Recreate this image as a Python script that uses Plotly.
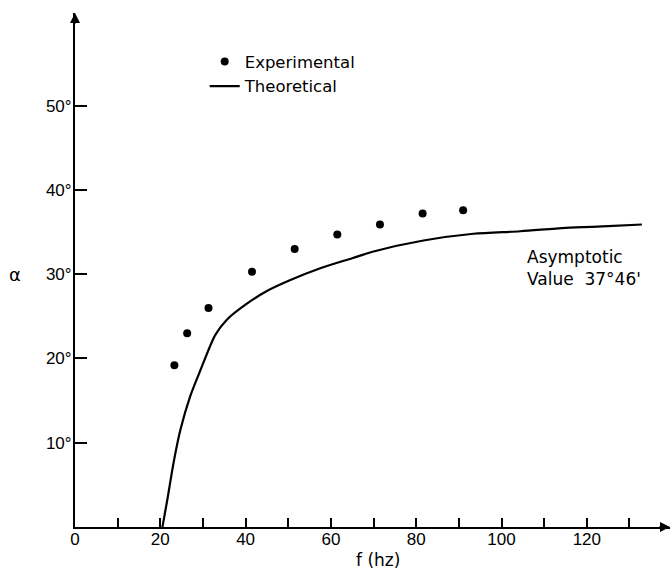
import plotly.graph_objects as go

# Experimental points (frequency in hz, angle alpha in degrees)
exp_f = [23.3, 26.3, 31.3, 41.5, 51.5, 61.5, 71.5, 81.5, 91.0]
exp_alpha = [19.2, 23.0, 26.0, 30.3, 33.0, 34.7, 35.9, 37.2, 37.6]

# Theoretical curve
theo_f = [20.5, 21.7, 23.1, 24.7, 27.0, 29.4, 32.9, 35.6, 40.3, 45.0, 50.5, 57.5,
          65.0, 70.0, 81.7, 93.4, 104.4, 115.0, 125.0, 132.9]
theo_alpha = [0.0, 3.4, 7.6, 11.5, 15.5, 18.6, 22.8, 24.6, 26.5, 28.0, 29.3, 30.7,
              31.9, 32.7, 34.0, 34.8, 35.1, 35.5, 35.7, 35.9]

x_tickvals = list(range(0, 140, 10))
x_ticktext = ["0", "", "20", "", "40", "", "60", "", "80", "", "100", "", "120", ""]
y_tickvals = [10, 20, 30, 40, 50]
y_ticktext = ["10°", "20°", "30°", "40°", "50°"]

FONT = "DejaVu Sans"
TICKFONT = "Liberation Sans"

fig = go.Figure()
fig.add_trace(go.Scatter(
    x=exp_f, y=exp_alpha, mode="markers", name="Experimental",
    marker=dict(color="black", size=8),
))
fig.add_trace(go.Scatter(
    x=theo_f, y=theo_alpha, mode="lines", name="Theoretical",
    line=dict(color="black", width=2.2, shape="spline", smoothing=0.8),
))

fig.update_layout(
    width=671, height=569,
    margin=dict(l=75, r=1, t=13, b=42, autoexpand=False),
    paper_bgcolor="white", plot_bgcolor="white",
    font=dict(family=FONT, color="black", size=16),
    showlegend=True,
    legend=dict(
        x=0.218, y=0.939, xanchor="left", yanchor="top",
        bgcolor="rgba(0,0,0,0)", borderwidth=0,
        font=dict(family=FONT, size=16.5, color="black"),
        itemwidth=30,
    ),
    xaxis=dict(
        range=[0, 139.5], showgrid=False, zeroline=False, automargin=False,
        showline=True, linecolor="black", linewidth=2,
        tickmode="array", tickvals=x_tickvals, ticktext=x_ticktext,
        ticks="inside", ticklen=9, tickwidth=1.5, tickcolor="black",
        ticklabelstandoff=-4,
        tickfont=dict(family=TICKFONT, size=17, color="black"),
    ),
    yaxis=dict(
        range=[0, 61], showgrid=False, zeroline=False, automargin=False,
        showline=True, linecolor="black", linewidth=2,
        tickmode="array", tickvals=y_tickvals, ticktext=y_ticktext,
        ticks="inside", ticklen=12, tickwidth=1.5, tickcolor="black",
        ticklabelstandoff=-2,
        tickfont=dict(family=TICKFONT, size=17, color="black"),
    ),
)

# axis arrows
fig.add_annotation(x=1, y=0, xref="paper", yref="paper", ax=-12, ay=0,
                   axref="pixel", ayref="pixel", text="", showarrow=True,
                   arrowhead=2, arrowsize=1, arrowwidth=2, arrowcolor="black")
fig.add_annotation(x=0, y=1, xref="paper", yref="paper", ax=0, ay=12,
                   axref="pixel", ayref="pixel", text="", showarrow=True,
                   arrowhead=2, arrowsize=1, arrowwidth=2, arrowcolor="black")

# axis labels
fig.add_annotation(x=0, xref="paper", y=30, yref="y", xshift=-60,
                   xanchor="center", yanchor="middle", text="α",
                   showarrow=False, font=dict(family=FONT, size=18))
fig.add_annotation(x=71, xref="x", y=0, yref="paper", yshift=-33,
                   xanchor="center", yanchor="middle", text="f (hz)",
                   showarrow=False, font=dict(family=FONT, size=17))

# asymptote note
fig.add_annotation(x=105.5, xref="x", y=30.7, yref="y", xanchor="left",
                   yanchor="middle", align="left",
                   text="Asymptotic<br>Value  37°46'", showarrow=False,
                   font=dict(family=FONT, size=17))

fig.write_html("out.html", config={"displayModeBar": False},
               post_script="document.body.style.margin='0';")
